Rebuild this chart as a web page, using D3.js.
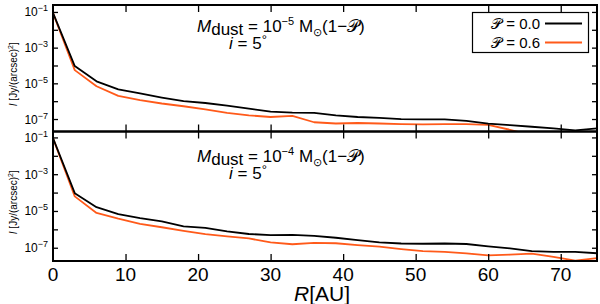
<!DOCTYPE html>
<html>
<head>
<meta charset="utf-8">
<script src="https://cdn.jsdelivr.net/npm/d3@7"></script>
<style>
  body { margin: 0; background: #fff; }
  svg { display: block; font-family: "Liberation Sans", Arial, sans-serif; }
</style>
</head>
<body>
<svg id="chart" width="600" height="304"></svg>
<script>
// radius grid (AU)
var radius = [0, 3, 6, 9, 12, 15, 18, 21, 24, 27, 30, 33, 36, 39, 42, 45, 48, 51, 54, 57, 60, 63, 66, 69, 72, 75];

// top panel, Mdust = 1e-5
var topP00 = [8.9e-2, 9.3e-5, 1.3e-5, 4.6e-6, 2.7e-6, 1.6e-6, 1.0e-6, 7.9e-7, 5.6e-7, 3.8e-7, 2.6e-7, 2.3e-7, 2.2e-7,
              1.6e-7, 1.3e-7, 1.15e-7, 1.0e-7, 9.5e-8, 9.5e-8, 7.9e-8, 5.5e-8, 4.5e-8, 3.7e-8, 3.0e-8, 2.3e-8, 3.0e-8];
var topP06 = [8.9e-2, 5.5e-5, 6.9e-6, 2.0e-6, 1.15e-6, 7.4e-7, 5.2e-7, 3.5e-7, 2.2e-7, 1.6e-7, 1.3e-7, 1.5e-7, 6.6e-8,
              5.6e-8, 6.0e-8, 5.6e-8, 5.2e-8, 5.0e-8, 5.2e-8, 5.2e-8, 4.7e-8, 2.5e-8, 1.2e-8, 8e-9, 6.3e-9, 6.3e-9];

// bottom panel, Mdust = 1e-4
var botP00 = [9.1e-2, 9.3e-5, 1.6e-5, 6.8e-6, 4.1e-6, 2.7e-6, 1.45e-6, 1.2e-6, 7.8e-7, 5.6e-7, 4.9e-7, 5.0e-7, 4.4e-7,
              3.5e-7, 2.6e-7, 1.95e-7, 1.7e-7, 1.65e-7, 1.7e-7, 1.6e-7, 1.2e-7, 9.3e-8, 6.6e-8, 6.0e-8, 6.0e-8, 5.0e-8];
var botP06 = [9.1e-2, 6.2e-5, 7.8e-6, 3.8e-6, 2.0e-6, 1.3e-6, 8.3e-7, 5.5e-7, 4.2e-7, 3.2e-7, 1.95e-7, 1.55e-7, 1.85e-7,
              1.75e-7, 1.4e-7, 1.15e-7, 8.5e-8, 6.6e-8, 6.0e-8, 5.0e-8, 3.8e-8, 4.2e-8, 4.8e-8, 3.2e-8, 2.0e-8, 2.7e-8];

var xTicks = [0, 10, 20, 30, 40, 50, 60, 70];
var yTicks = [1e-1, 1e-2, 1e-3, 1e-4, 1e-5, 1e-6, 1e-7];
var yLabelExp = [-1, -3, -5, -7];
var legendLabels = ["0.0", "0.6"];
var massExp = ["\u22125", "\u22124"];

var colors = ["#000000", "#ff5a1a"];
var svg = d3.select("#chart");

var x = d3.scaleLinear().domain([0, 75]).range([53, 597]);

var panels = [
  {top: 5, bottom: 131.5, domain: [2.0e-8, 0.245], series: [topP00, topP06], mexp: massExp[0], id: "c0"},
  {top: 131.5, bottom: 261, domain: [1.9e-8, 0.21], series: [botP00, botP06], mexp: massExp[1], id: "c1"}
];

// writes a line of text made of pieces, each with its own style and shift
function richText(g, px, py, parts, size, anchor) {
  var t = g.append("text").attr("x", px).attr("y", py)
    .attr("font-size", size).attr("text-anchor", anchor || "start");
  var prev = 0;
  parts.forEach(function (p) {
    var sh = p.shift || 0;
    var ts = t.append("tspan").text(p.t).attr("dy", sh - prev);
    if (p.size) ts.attr("font-size", p.size);
    if (p.italic) ts.attr("font-style", "italic");
    prev = sh;
  });
  return t;
}

panels.forEach(function (p, k) {
  var y = d3.scaleLog().domain(p.domain).range([p.bottom, p.top]);
  var g = svg.append("g");

  svg.append("clipPath").attr("id", p.id).append("rect")
    .attr("x", 53).attr("y", p.top).attr("width", 544).attr("height", p.bottom - p.top);

  var line = d3.line()
    .x(function (d, i) { return x(radius[i]); })
    .y(function (d) { return y(d); });

  // orange first so the black line stays visible on top
  [1, 0].forEach(function (s) {
    g.append("path").datum(p.series[s])
      .attr("clip-path", "url(#" + p.id + ")")
      .attr("d", line)
      .attr("fill", "none")
      .attr("stroke", colors[s])
      .attr("stroke-width", 1.8)
      .attr("stroke-linejoin", "round");
  });

  // ticks inward on all four sides
  var axL = d3.axisLeft(y).tickValues(yTicks).tickSize(-5).tickFormat("");
  var axR = d3.axisRight(y).tickValues(yTicks).tickSize(-5).tickFormat("");
  var axT = d3.axisTop(x).tickValues(xTicks.slice(1)).tickSize(-7).tickFormat("");
  var axB = d3.axisBottom(x).tickValues(xTicks.slice(1)).tickSize(-7).tickFormat("");
  [[axL, "translate(53,0)"], [axR, "translate(597,0)"], [axT, "translate(0," + p.top + ")"], [axB, "translate(0," + p.bottom + ")"]]
    .forEach(function (a) {
      var ag = g.append("g").attr("transform", a[1]).call(a[0]);
      ag.select(".domain").remove();
      ag.selectAll("line").attr("stroke", "#000").attr("stroke-width", 1.3);
    });

  // y tick labels
  yLabelExp.forEach(function (e) {
    richText(g, 48, y(Math.pow(10, e)) + 4.5, [
      {t: "10"},
      {t: "\u2212" + (-e), size: 9, shift: -5}
    ], 12, "end");
  });

  // frame
  g.append("rect").attr("x", 53).attr("y", p.top).attr("width", 544).attr("height", p.bottom - p.top)
    .attr("fill", "none").attr("stroke", "#000").attr("stroke-width", 2);

  // y axis title
  var cy = (p.top + p.bottom) / 2 + 6;
  richText(g, 0, 0, [
    {t: "I", italic: true},
    {t: " [Jy/(arcsec)"},
    {t: "2", size: 7, shift: -4},
    {t: "]", shift: 0}
  ], 10, "middle").attr("transform", "translate(17," + cy + ") rotate(-90)");

  // annotation
  var ay = p.top + (k === 0 ? 27 : 30);
  richText(g, 197, ay, [
    {t: "M", italic: true},
    {t: "dust", shift: 3},
    {t: " = 10", shift: 0},
    {t: p.mexp, size: 11, shift: -7},
    {t: " M", shift: 0},
    {t: "\u2299", size: 11, shift: 4},
    {t: "(1\u2212", shift: 0},
    {t: "\uD835\uDCAB"},
    {t: ")"}
  ], 17);
  richText(g, 229, ay + 17, [
    {t: "i", italic: true},
    {t: " =  5"},
    {t: "\u00B0", size: 13, shift: -5}
  ], 17);
});

// x tick labels under the bottom panel
svg.append("g").selectAll("text").data(xTicks).join("text")
  .attr("x", function (d) { return x(d); })
  .attr("y", 281)
  .attr("text-anchor", "middle")
  .attr("font-size", 19)
  .text(function (d) { return d; });

richText(svg, 322, 301, [
  {t: "R", italic: true},
  {t: "[AU]"}
], 21, "middle");

// legend
var lg = svg.append("g");
lg.append("rect").attr("x", 472.5).attr("y", 12.5).attr("width", 116).attr("height", 40)
  .attr("fill", "#fff").attr("stroke", "#000").attr("stroke-width", 1.2);
legendLabels.forEach(function (lab, i) {
  var ly = 23.5 + i * 19;
  richText(lg, 540, ly + 5, [
    {t: "\uD835\uDCAB"},
    {t: " = " + lab}
  ], 15, "end");
  lg.append("line").attr("x1", 545).attr("x2", 582).attr("y1", ly).attr("y2", ly)
    .attr("stroke", colors[i]).attr("stroke-width", 1.8);
});
</script>
</body>
</html>
